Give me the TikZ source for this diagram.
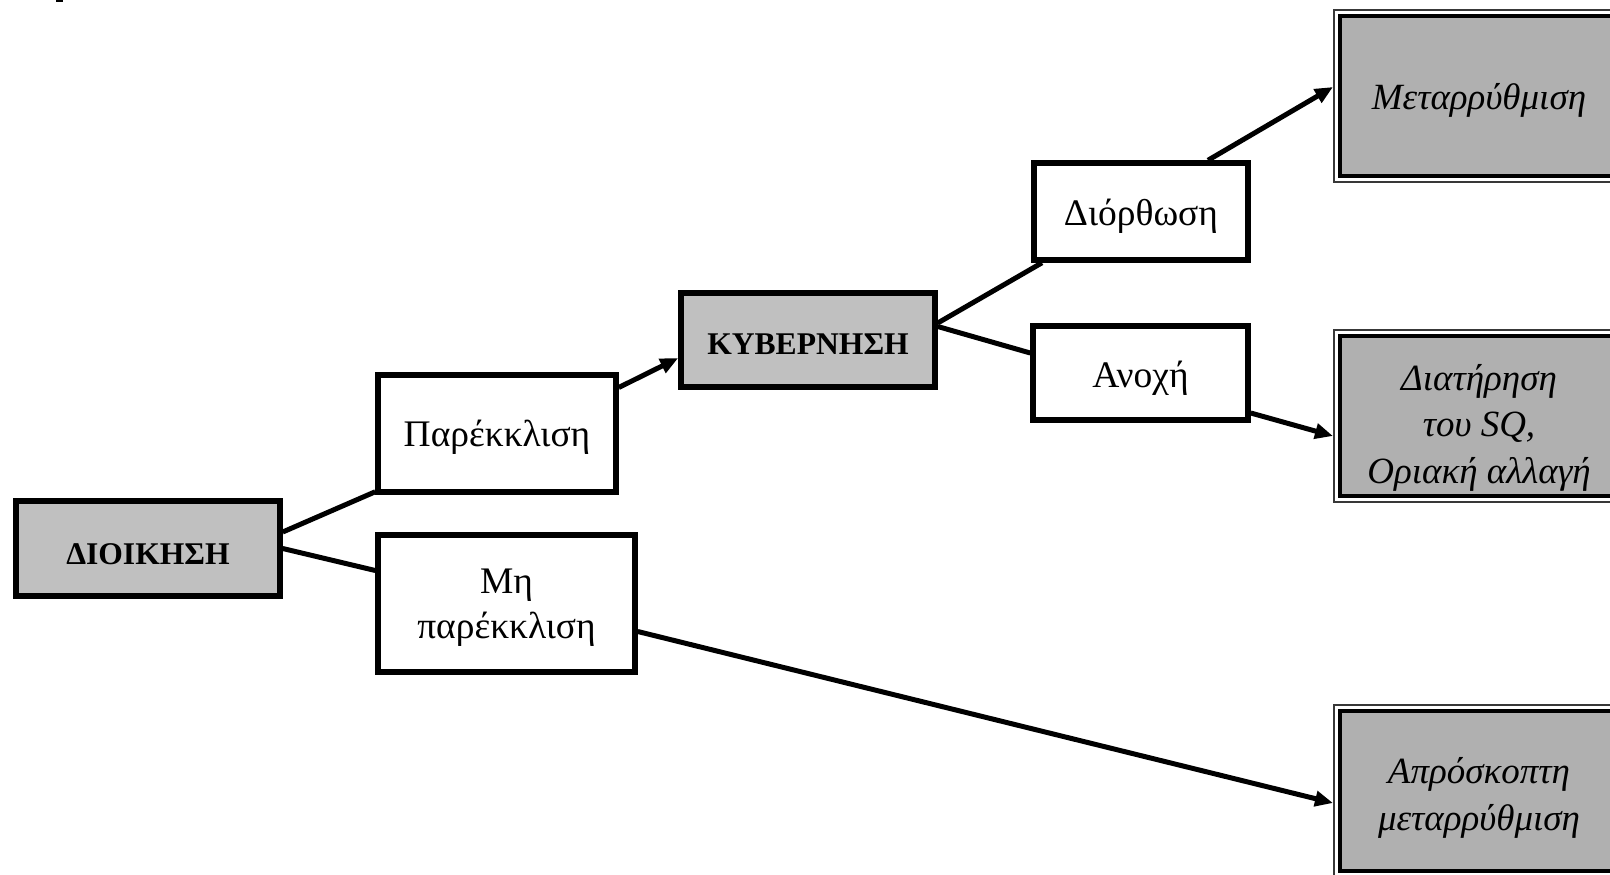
\documentclass[tikz,border=0pt]{standalone}
\usepackage{fontspec}
\setmainfont{Liberation Serif}
\usetikzlibrary{arrows.meta,calc}
\definecolor{boxgray}{HTML}{C0C0C0}
\definecolor{endgray}{HTML}{B0B0B0}
\definecolor{rimgray}{HTML}{383838}
\newcommand{\lowone}[2]{\raisebox{-#1}[\height][\depth]{#2}}
\newcommand{\lowmany}[3]{\raisebox{-#1}[\height][\depth]{\parbox{#2}{\centering #3}}}
\begin{document}
\begin{tikzpicture}[x=1pt,y=-1pt,
  conn/.style={line width=5pt},
  arr/.style={conn,-{Triangle[length=18pt,width=15pt]}},
  plainbox/.style={draw,line width=5.5pt,fill=white,align=center,inner sep=0pt,
    font=\fontsize{37.5}{45}\selectfont},
  headbox/.style={plainbox,fill=boxgray,font=\fontsize{31.6}{40}\selectfont\bfseries},
  endouter/.style={draw=rimgray,line width=2pt,fill=white,inner sep=0pt,
    minimum width=290pt,minimum height=172pt},
  endinner/.style={draw,line width=3.5pt,fill=endgray,align=center,inner sep=0pt,
    minimum width=278pt,minimum height=160pt,font=\fontsize{37}{46.5}\selectfont\itshape},
]
\useasboundingbox (0,0) rectangle (1610,875);
\clip (0,0) rectangle (1610,875);
\fill (56,0) rectangle (63,2);

% left part
\node[headbox,minimum width=264pt,minimum height=95pt] (dio) at (148,548.5) {\lowone{6pt}{ΔΙΟΙΚΗΣΗ}};
\node[plainbox,minimum width=238pt,minimum height=117pt] (par) at (497,433.5) {\lowone{4pt}{Παρέκκλιση}};
\node[plainbox,minimum width=257pt,minimum height=137pt] (mip) at (506.5,603.5) {\lowmany{4pt}{250pt}{Μη\\παρέκκλιση}};
\node[headbox,minimum width=254pt,minimum height=94pt] (kyb) at (808,340) {\lowone{4pt}{ΚΥΒΕΡΝΗΣΗ}};
\node[plainbox,minimum width=214pt,minimum height=97pt] (dior) at (1141,211.5) {\lowone{5pt}{Διόρθωση}};
\node[plainbox,minimum width=215pt,minimum height=94pt] (anox) at (1140.5,373) {\lowone{5pt}{Ανοχή}};

% end boxes
\node[endouter] (metO) at (1479,96) {};
\node[endinner] (met) at (1479,96) {\lowone{4pt}{Μεταρρύθμιση}};
\node[endouter] (diaO) at (1479,416) {};
\node[endinner] (dia) at (1479,416) {\lowmany{11.5pt}{278pt}{Διατήρηση\\του SQ,\\Οριακή αλλαγή}};
\node[endouter] (aprO) at (1479,791) {};
\node[endinner] (apr) at (1479,791) {\lowmany{7pt}{278pt}{Απρόσκοπτη\\μεταρρύθμιση}};

% connectors
\draw[conn] ([yshift=16.5pt]dio.east) -- ([yshift=3pt]par.south west);
\draw[conn] (dio.east) -- ([yshift=33pt]mip.west);
\draw[arr] ([yshift=46pt]par.east) -- ([yshift=-18pt]kyb.west);
\draw[conn] ([yshift=17pt]kyb.east) -- ([xshift=-99pt]dior.south);
\draw[conn] ([yshift=13.5pt]kyb.east) -- ([yshift=20pt]anox.west);
\draw[arr] ([xshift=67pt]dior.north) -- ([yshift=9pt]metO.west);
\draw[arr] ([yshift=-40pt]anox.east) -- ([yshift=-20pt]diaO.west);
\draw[arr] ([yshift=-28pt]mip.east) -- ([yshift=-12pt]aprO.west);
\end{tikzpicture}
\end{document}
